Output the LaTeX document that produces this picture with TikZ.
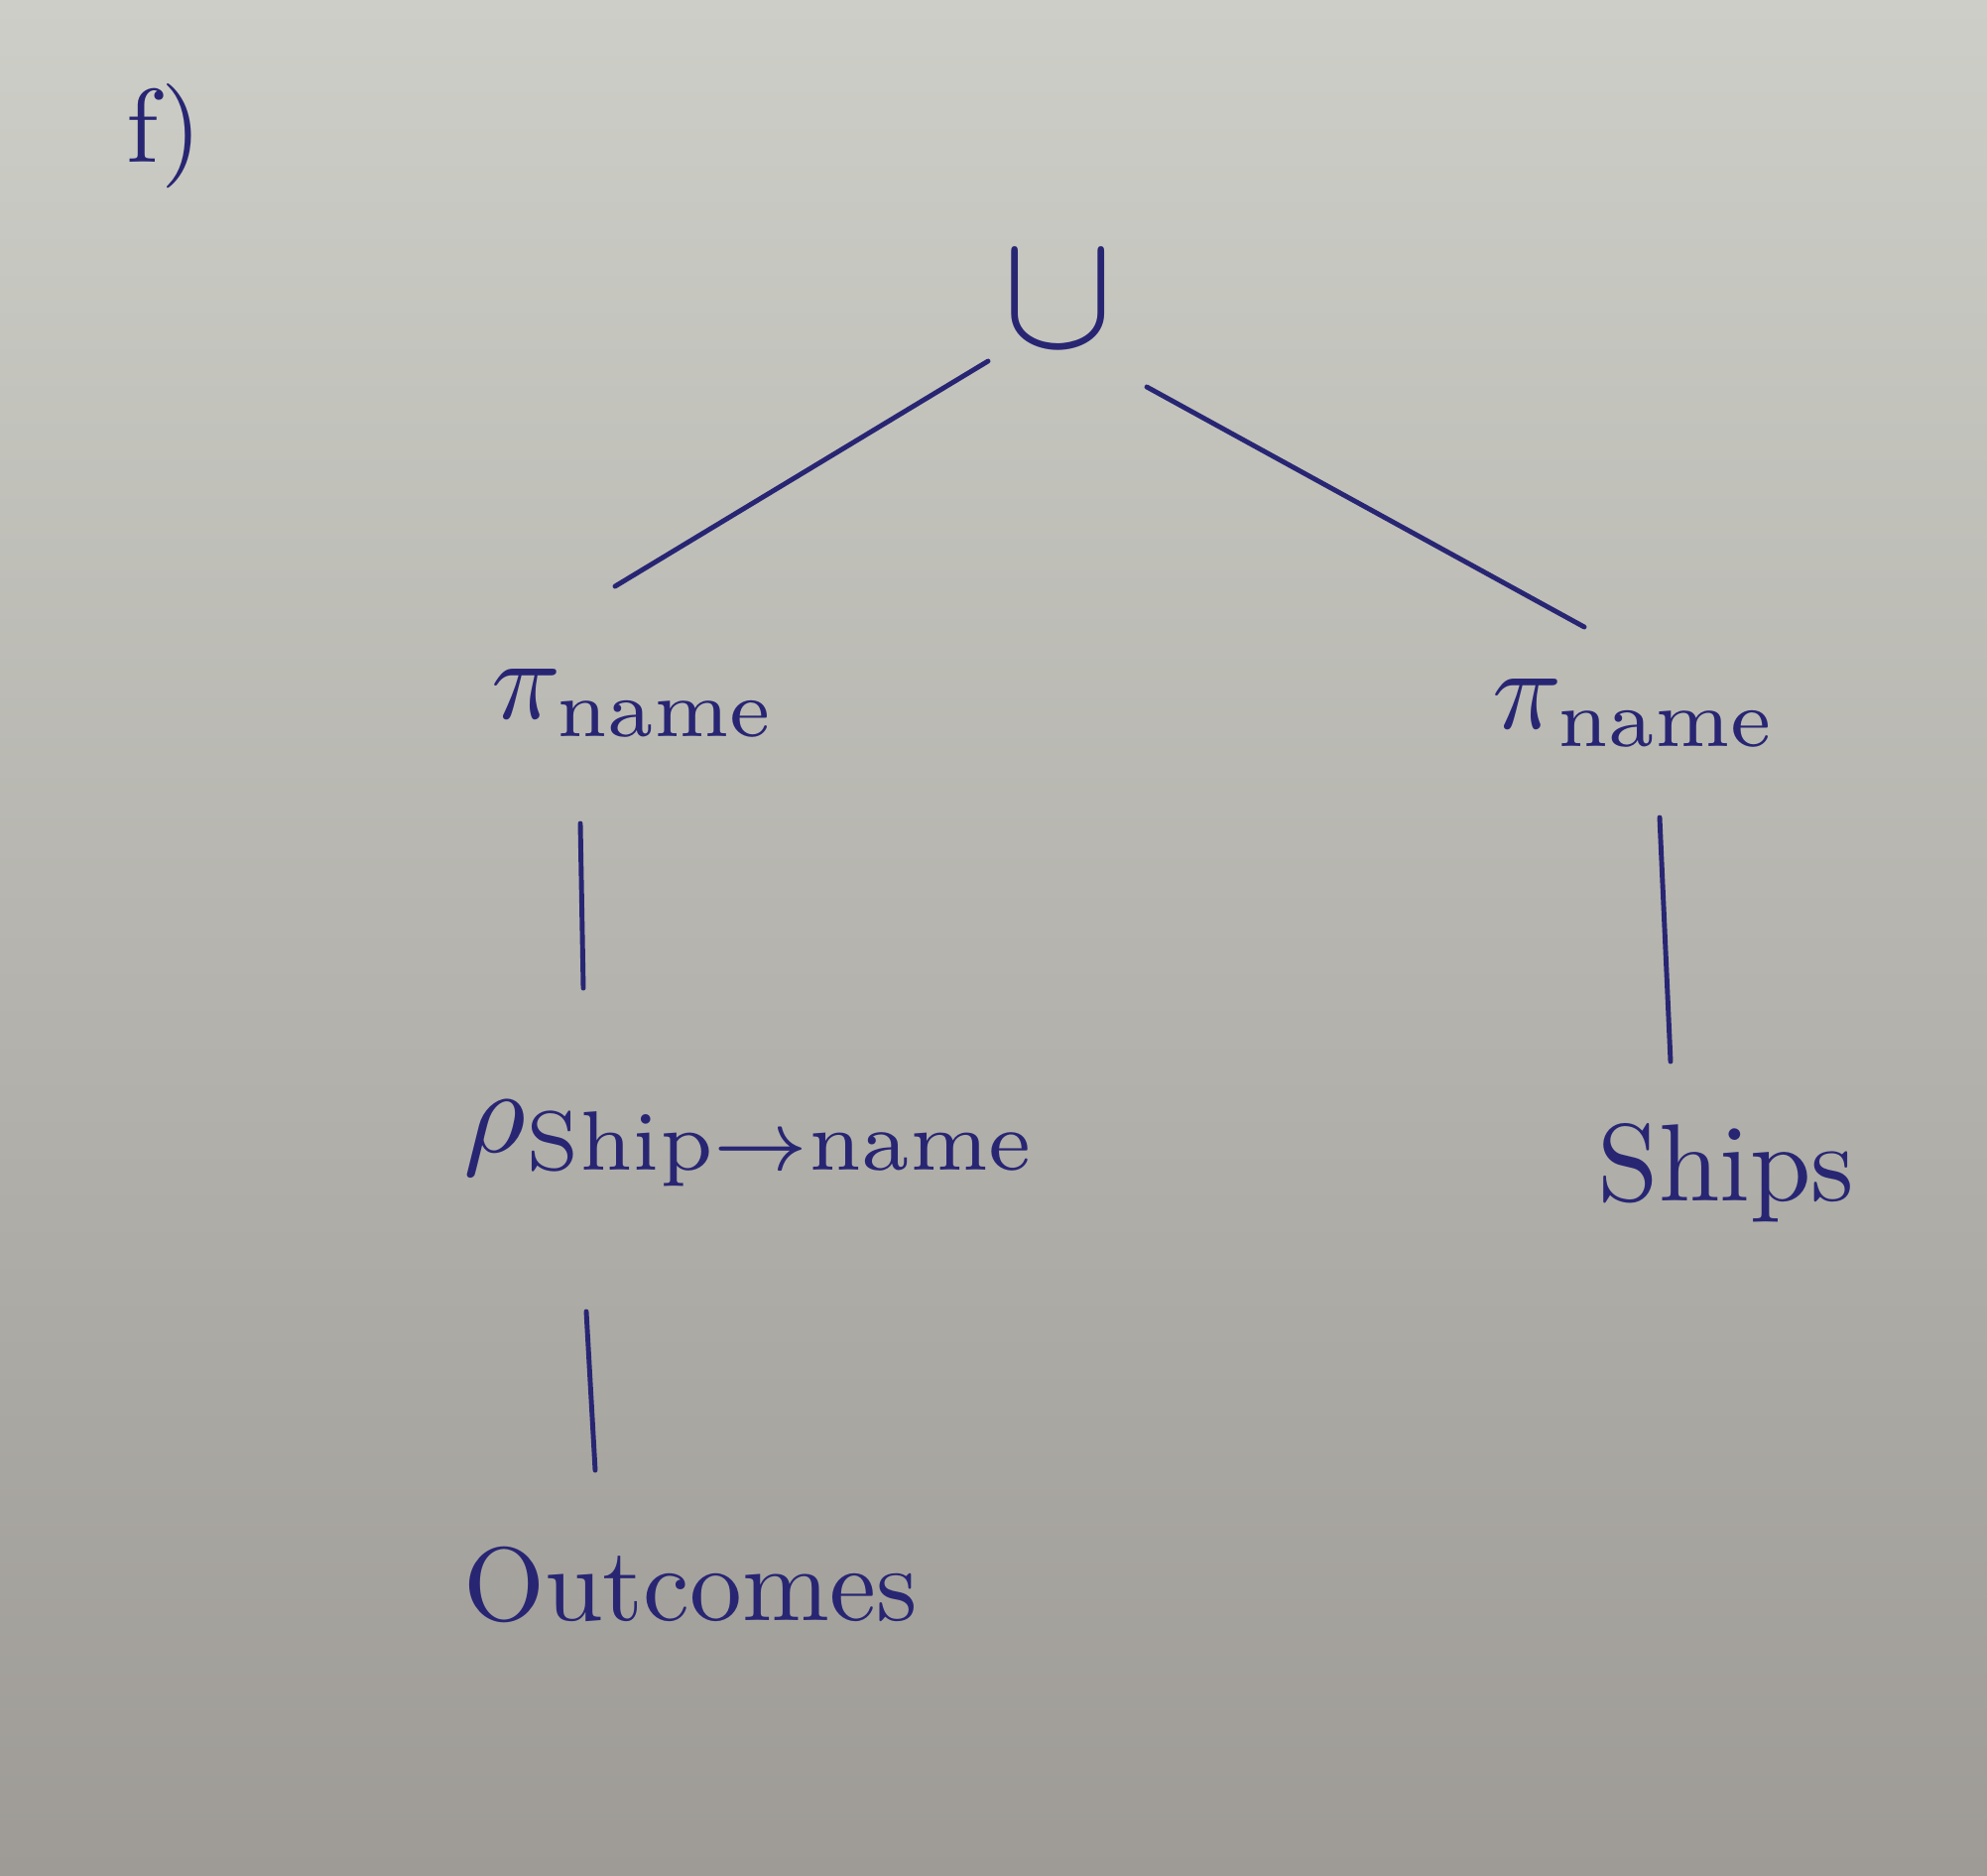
\documentclass[tikz,border=0pt]{standalone}
\usepackage{amsmath}
\usepackage{xcolor}
\definecolor{ink}{RGB}{40,38,115}
\definecolor{paperTop}{RGB}{205,206,199}
\definecolor{paperBot}{RGB}{158,155,150}

\tikzset{
  rel/.style={text=ink, inner sep=1pt, scale=3, transform shape},
  edge/.style={draw=ink, line width=1.4pt, line cap=round},
}

\begin{document}
\begin{tikzpicture}

% paper
\shade[top color=paperTop, bottom color=paperBot] (0,0) rectangle (20.03,-18.90);
\useasboundingbox (0,0) rectangle (20.03,-18.90);

% part label
\node[rel] (part) at (1.66,-1.37) {f)};

% union at the root
\node[rel, scale=1.6] (union) at (10.67,-3.03) {$\cup$};

% projections
\node[rel, scale=1.1] (projL) at (6.39,-7.09) {$\pi_{\text{name}}$};
\node[rel, scale=1.1] (projR) at (16.48,-7.19) {$\pi_{\text{name}}$};

% rename
\node[rel, scale=1.15] (rename) at (7.57,-11.53) {$\rho_{\text{Ship}\rightarrow\text{name}}$};

% relations
\node[rel, scale=1.05] (ships) at (17.40,-11.82) {Ships};
\node[rel] (outcomes) at (6.96,-15.97) {Outcomes};

% union to projections
\draw[edge] ([shift={(-0.71,-0.61)}]union.center) -- ([shift={(-0.19,1.18)}]projL.center);
\draw[edge] ([shift={(0.89,-0.87)}]union.center) -- ([shift={(-0.51,0.87)}]projR.center);

% projections down
\draw[edge] ([shift={(-0.54,-1.21)}]projL.center) -- ([shift={(-1.69,1.57)}]rename.center);
\draw[edge] ([shift={(0.25,-1.05)}]projR.center) -- ([shift={(-0.56,1.12)}]ships.center);

% rename down
\draw[edge] ([shift={(-1.66,-1.69)}]rename.center) -- ([shift={(-0.96,1.15)}]outcomes.center);

\end{tikzpicture}
\end{document}
